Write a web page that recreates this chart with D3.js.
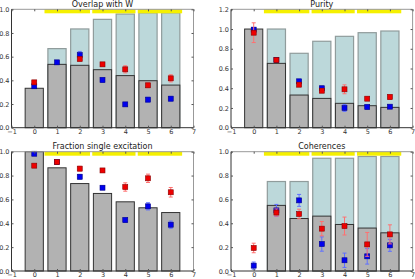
<!DOCTYPE html>
<html>
<head>
<meta charset="utf-8">
<script src="https://cdn.jsdelivr.net/npm/d3@7"></script>
<style>
  body { margin: 0; background: #fff; }
  svg text { font-family: "DejaVu Sans", sans-serif; }
</style>
</head>
<body>
<svg id="fig" width="415" height="279"></svg>
<script>
// categories on the x axis
var steps = [0, 1, 2, 3, 4, 5, 6];
var xTicks = [-1, 0, 1, 2, 3, 4, 5, 6, 7];
// yellow marker segments along the top
var yellowSegs = [[0.45, 2.45], [2.55, 4.45], [4.55, 6.5]];

// Overlap with W
var overlapGray  = [0.333, 0.535, 0.527, 0.49, 0.44, 0.397, 0.36];
var overlapBlue  = [null, 0.668, 0.834, 0.915, 0.96, 0.97, 0.97];
var overlapRed   = [0.383, null, 0.58, 0.535, 0.493, 0.358, 0.417];
var overlapRedErr = [0.015, 0, 0.015, 0.015, 0.03, 0.02, 0.03];
var overlapBluePt = [0.35, 0.552, 0.614, 0.403, 0.197, 0.237, 0.245];
var overlapBlueErr = [0.01, 0.01, 0.03, 0.02, 0.01, 0.02, 0.02];

// Purity
var purityGray  = [1.0, 0.652, 0.331, 0.297, 0.247, 0.223, 0.206];
var purityBlue  = [null, 1.0, 0.754, 0.876, 0.926, 0.963, 0.98];
var purityRed   = [0.963, 0.686, 0.436, 0.375, 0.389, 0.294, 0.311];
var purityRedErr = [0.1, 0.01, 0.02, 0.02, 0.045, 0.015, 0.025];
var purityBluePt = [0.994, 0.686, 0.47, 0.4, 0.2, 0.21, 0.213];
var purityBlueErr = [0.02, 0.01, 0.02, 0.02, 0.035, 0.02, 0.01];

// Fraction single excitation
var fracGray  = [1.0, 0.865, 0.733, 0.65, 0.58, 0.53, 0.49];
var fracRed   = [0.883, 0.913, 0.858, 0.843, 0.704, 0.777, 0.66];
var fracRedErr = [0.01, 0.01, 0.02, 0.015, 0.035, 0.035, 0.04];
var fracBluePt = [0.983, 0.913, 0.79, 0.698, 0.427, 0.542, 0.388];
var fracBlueErr = [0.01, 0.01, 0.02, 0.015, 0.02, 0.03, 0.03];

// Coherences
var cohGray  = [0, 0.55, 0.44, 0.46, 0.39, 0.36, 0.32];
var cohBlue  = [null, 0.75, 0.75, 0.945, 0.945, 0.96, 0.96];
var cohRed   = [0.193, 0.49, 0.478, 0.355, 0.377, 0.223, 0.307];
var cohRedErr = [0.04, 0.03, 0.04, 0.06, 0.075, 0.1, 0.08];
var cohBluePt = [0.045, 0.508, 0.592, 0.226, 0.09, 0.123, 0.215];
var cohBlueErr = [0.03, 0.05, 0.05, 0.06, 0.06, 0.065, 0.05];

var panels = [
  {title: 'Overlap with W', box: [11.5, 193.5, 9.3, 127.7], ymax: 1.0,
   gray: overlapGray, light: overlapBlue, red: overlapRed, redErr: overlapRedErr,
   blue: overlapBluePt, blueErr: overlapBlueErr},
  {title: 'Purity', box: [231, 412.6, 9.3, 127.7], ymax: 1.2,
   gray: purityGray, light: purityBlue, red: purityRed, redErr: purityRedErr,
   blue: purityBluePt, blueErr: purityBlueErr},
  {title: 'Fraction single excitation', box: [11.5, 193.5, 151.7, 271], ymax: 1.0,
   gray: fracGray, light: null, red: fracRed, redErr: fracRedErr,
   blue: fracBluePt, blueErr: fracBlueErr},
  {title: 'Coherences', box: [231, 412.6, 151.7, 271], ymax: 1.0,
   gray: cohGray, light: cohBlue, red: cohRed, redErr: cohRedErr,
   blue: cohBluePt, blueErr: cohBlueErr}
];

var svg = d3.select('#fig');

panels.forEach(function(p) {
  var x = d3.scaleLinear().domain([-1, 7]).range([p.box[0], p.box[1]]);
  var y = d3.scaleLinear().domain([0, p.ymax]).range([p.box[3], p.box[2]]);
  var bw = x(0.8) - x(0);
  var g = svg.append('g');

  // light blue bars behind
  if (p.light) {
    g.selectAll('.light')
      .data(steps.filter(function(d) { return p.light[d] != null; }))
      .enter().append('rect')
      .attr('x', function(d) { return x(d - 0.4); })
      .attr('y', function(d) { return y(p.light[d]); })
      .attr('width', bw)
      .attr('height', function(d) { return y(0) - y(p.light[d]); })
      .attr('fill', '#bcd8da')
      .attr('stroke', '#909c9c')
      .attr('stroke-width', 1.2);
  }

  // gray bars
  g.selectAll('.gray')
    .data(steps)
    .enter().append('rect')
    .attr('x', function(d) { return x(d - 0.4); })
    .attr('y', function(d) { return y(p.gray[d]); })
    .attr('width', bw)
    .attr('height', function(d) { return y(0) - y(p.gray[d]); })
    .attr('fill', '#b2b2b2')
    .attr('stroke', '#333')
    .attr('stroke-width', 1);

  // yellow segments at the top
  g.selectAll('.yel')
    .data(yellowSegs)
    .enter().append('rect')
    .attr('x', function(d) { return x(d[0]); })
    .attr('y', y(p.ymax))
    .attr('width', function(d) { return x(d[1]) - x(d[0]); })
    .attr('height', 4)
    .attr('fill', '#f5f000');

  // points with error bars, blue then red
  [['blue', 'blueErr', '#0000ee', '#000088', '#6070ff'],
   ['red', 'redErr', '#ee0000', '#880000', '#ff7070']].forEach(function(s) {
    var vals = p[s[0]], errs = p[s[1]];
    var pts = steps.filter(function(d) { return vals[d] != null; });
    var eg = g.append('g').attr('stroke', s[4]).attr('stroke-width', 1);
    pts.forEach(function(d) {
      if (!errs[d]) return;
      var cx = x(d), lo = y(vals[d] - errs[d]), hi = y(vals[d] + errs[d]);
      eg.append('line').attr('x1', cx).attr('x2', cx).attr('y1', lo).attr('y2', hi);
      eg.append('line').attr('x1', cx - 2).attr('x2', cx + 2).attr('y1', lo).attr('y2', lo);
      eg.append('line').attr('x1', cx - 2).attr('x2', cx + 2).attr('y1', hi).attr('y2', hi);
    });
    g.selectAll('.pt-' + s[0])
      .data(pts)
      .enter().append('rect')
      .attr('x', function(d) { return x(d) - 2.5; })
      .attr('y', function(d) { return y(vals[d]) - 2.5; })
      .attr('width', 5).attr('height', 5)
      .attr('fill', s[2])
      .attr('stroke', s[3])
      .attr('stroke-width', 0.6);
  });

  // frame
  var x0 = p.box[0], x1 = p.box[1], y0 = p.box[2], y1 = p.box[3];
  g.append('line').attr('x1', x0).attr('x2', x1).attr('y1', y0).attr('y2', y0).attr('stroke', '#999');
  g.append('line').attr('x1', x1).attr('x2', x1).attr('y1', y0).attr('y2', y1).attr('stroke', '#999');
  g.append('line').attr('x1', x0).attr('x2', x0).attr('y1', y0).attr('y2', y1).attr('stroke', '#333');
  g.append('line').attr('x1', x0).attr('x2', x1).attr('y1', y1).attr('y2', y1).attr('stroke', '#333');

  // axes with inward ticks
  var yTicks = d3.range(0, p.ymax + 0.001, 0.2);
  var ax = g.append('g').attr('transform', 'translate(0,' + y1 + ')')
    .call(d3.axisBottom(x).tickValues(xTicks).tickSize(-2).tickPadding(1.4)
      .tickFormat(function(d) { return d < 0 ? '\u22121' : d; }));
  var ay = g.append('g').attr('transform', 'translate(' + x0 + ',0)')
    .call(d3.axisLeft(y).tickValues(yTicks).tickSize(-2).tickPadding(2).tickFormat(d3.format('.1f')));
  var at = g.append('g').attr('transform', 'translate(0,' + y0 + ')')
    .call(d3.axisTop(x).tickValues(xTicks).tickSize(-2).tickFormat(''));
  var ar = g.append('g').attr('transform', 'translate(' + x1 + ',0)')
    .call(d3.axisRight(y).tickValues(yTicks).tickSize(-2).tickFormat(''));
  [ax, ay, at, ar].forEach(function(a) {
    a.select('.domain').remove();
    a.selectAll('.tick line').attr('stroke', '#555');
    a.selectAll('text').attr('font-size', '6.5px').attr('fill', '#333')
      .style('font-family', '"DejaVu Sans", sans-serif');
  });

  g.append('text')
    .attr('x', (x0 + x1) / 2)
    .attr('y', y0 - 2.5)
    .attr('text-anchor', 'middle')
    .attr('font-size', '8px')
    .attr('fill', '#222')
    .text(p.title);
});
</script>
</body>
</html>
